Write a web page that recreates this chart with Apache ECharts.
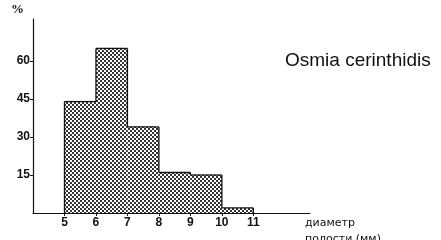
<!DOCTYPE html>
<html><head><meta charset="utf-8">
<script src="https://cdn.jsdelivr.net/npm/echarts@6/dist/echarts.min.js"></script>
<style>html,body{margin:0;padding:0;background:#fff}#c{width:441px;height:240px}</style>
</head><body><div id="c"></div>
<script>
var binStarts = [5, 6, 7, 8, 9, 10];
var binEnds = [6, 7, 8, 9, 10, 11];
var percents = [44, 65, 34, 16, 15, 2];
var xTickLabels = [5, 6, 7, 8, 9, 10, 11];
var yTickLabels = [15, 30, 45, 60];

var pc = document.createElement('canvas');
pc.width = 4; pc.height = 4;
var g = pc.getContext('2d');
g.fillStyle = '#fff'; g.fillRect(0, 0, 4, 4);
g.fillStyle = '#333';
g.fillRect(0, 0, 2, 2); g.fillRect(2, 2, 2, 2);

var data = binStarts.map(function (s, i) { return [s, binEnds[i], percents[i]]; });

var chart = echarts.init(document.getElementById('c'), null, {renderer: 'canvas'});
chart.setOption({
  animation: false,
  grid: {left: 33, top: 19, right: 131, bottom: 27},
  xAxis: {
    type: 'value', min: 4, max: 12.8, interval: 1,
    axisLine: {lineStyle: {color: '#111', width: 1.2}},
    splitLine: {show: false},
    axisTick: {show: true, length: 3, customValues: xTickLabels, lineStyle: {color: '#111'}},
    axisLabel: {customValues: xTickLabels, color: '#111', fontSize: 12, fontWeight: 'bold', fontFamily: 'Liberation Sans Narrow, Liberation Sans', margin: 4}
  },
  yAxis: {
    type: 'value', min: 0, max: 76.6, interval: 15,
    axisLine: {show: true, lineStyle: {color: '#111', width: 1.2}},
    splitLine: {show: false},
    axisTick: {show: true, length: 3, customValues: yTickLabels, lineStyle: {color: '#111'}},
    axisLabel: {customValues: yTickLabels, color: '#111', fontSize: 12, fontWeight: 'bold', fontFamily: 'Liberation Sans Narrow, Liberation Sans', margin: 3}
  },
  series: [{
    type: 'custom',
    data: data,
    encode: {x: [0, 1], y: 2},
    renderItem: function (params, api) {
      var i = params.dataIndex;
      var v = api.value(2);
      var prev = i > 0 ? percents[i - 1] : 0;
      var next = i < percents.length - 1 ? percents[i + 1] : 0;
      var tl = api.coord([api.value(0), v]);
      var br = api.coord([api.value(1), 0]);
      var children = [{
        type: 'rect',
        shape: {x: tl[0], y: tl[1], width: br[0] - tl[0], height: br[1] - tl[1]},
        style: {fill: {image: pc, repeat: 'repeat'}}
      }, {
        type: 'line',
        shape: {x1: tl[0], y1: tl[1], x2: br[0], y2: tl[1]},
        style: {stroke: '#111', lineWidth: 1.3}
      }];
      if (v > prev) {
        var pl = api.coord([api.value(0), prev]);
        children.push({type: 'line', shape: {x1: tl[0], y1: tl[1], x2: tl[0], y2: pl[1]}, style: {stroke: '#111', lineWidth: 1.3}});
      }
      if (v > next) {
        var nl = api.coord([api.value(1), next]);
        children.push({type: 'line', shape: {x1: br[0], y1: tl[1], x2: br[0], y2: nl[1]}, style: {stroke: '#111', lineWidth: 1.3}});
      }
      return {type: 'group', children: children};
    }
  }],
  graphic: [
    {type: 'text', left: 11, top: 3, style: {text: '%', font: 'bold 13px Liberation Serif', fill: '#111'}},
    {type: 'text', left: 285, top: 51, style: {text: 'Osmia cerinthidis', font: '19px Liberation Sans', fill: '#111'}},
    {type: 'text', left: 305, top: 215, style: {text: 'диаметр\nполости (мм)', font: '11px DejaVu Sans', lineHeight: 16, fill: '#111'}}
  ]
});
</script></body></html>
